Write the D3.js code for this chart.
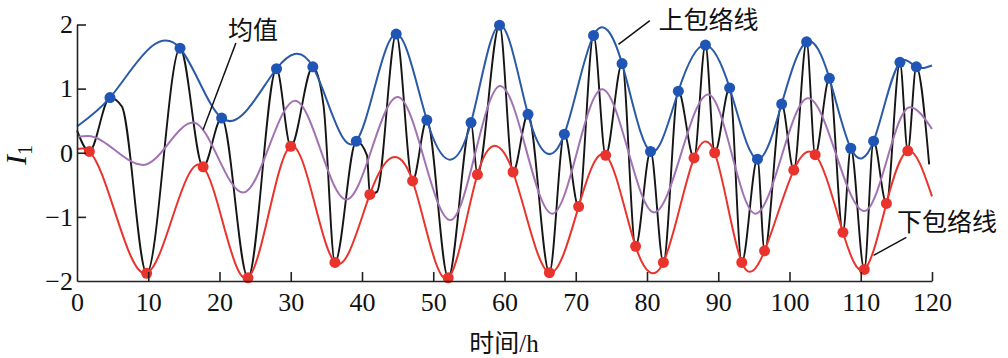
<!DOCTYPE html>
<html><head><meta charset="utf-8">
<script src="https://cdn.jsdelivr.net/npm/d3@7/dist/d3.min.js"></script>
<style>body{margin:0;background:#fff}svg{display:block}</style>
</head><body>
<svg id="chart" width="1008" height="358"></svg>
<script>
// ---- data ----
const xTicks = [0,10,20,30,40,50,60,70,80,90,100,110,120];
const yTicks = [-2,-1,0,1,2];

// local maxima of the signal (blue dots)
const maxX = [4.63,14.46,20.3,28.0,33.1,39.2,44.8,49.1,55.3,59.3,63.3,68.4,72.5,76.5,80.5,84.4,88.2,91.6,95.5,98.9,102.4,105.6,108.6,111.8,115.5,117.8];
const maxY = [0.86,1.63,0.54,1.31,1.34,0.18,1.85,0.51,0.47,1.99,0.60,0.29,1.83,1.39,0.02,0.96,1.68,1.01,-0.10,0.76,1.73,1.16,0.07,0.18,1.41,1.34];
// local minima of the signal (red dots)
const minX = [1.73,9.78,17.7,24.0,30.0,36.2,41.1,47.1,52.1,56.2,61.2,66.3,70.4,74.2,78.4,82.3,86.6,89.5,93.3,96.5,100.6,103.6,107.5,110.5,113.6,116.6];
const minY = [0.02,-1.88,-0.22,-1.95,0.10,-1.71,-0.65,-0.44,-1.95,-0.34,-0.30,-1.87,-0.84,-0.04,-1.46,-1.71,-0.08,0.0,-1.71,-1.53,-0.27,-0.03,-1.24,-1.82,-0.79,0.03];
// envelope end values at t = 0 and t = 120
const upperEndY = [0.41, 1.36];
const lowerEndY = [0.06, -0.68];
const endX = [0, 120];

// mean curve (purple)
const meanX = [0,1.5,9.3,16.3,23.3,30.6,37.8,45.0,52.4,59.4,66.7,73.7,81.0,88.6,95.2,102.6,110.5,116.9,120];
const meanY = [0.25,0.26,-0.19,0.47,-0.62,0.81,-0.73,0.87,-1.05,1.04,-0.95,0.99,-0.93,0.91,-0.95,0.85,-0.91,0.71,0.37];

// signal I1 (black)
const sigX = [0,1.73,4.63,6.3,9.78,14.46,17.7,20.3,24.0,28.0,30.0,33.1,34.6,36.2,39.2,40.7,41.1,42.1,44.8,47.1,49.1,52.1,55.3,56.2,59.3,61.2,63.3,66.3,68.4,70.4,72.5,74.2,76.5,78.4,80.5,82.3,84.4,86.6,88.2,89.5,91.6,93.3,95.5,96.5,98.9,100.6,102.4,103.6,105.6,107.5,108.6,110.5,111.8,113.6,115.5,116.6,117.8,119.6];
const sigY = [0.35,0.02,0.86,0.72,-1.88,1.63,-0.22,0.54,-1.95,1.31,0.10,1.34,0.74,-1.71,0.18,-0.04,-0.65,-0.61,1.85,-0.44,0.51,-1.95,0.47,-0.34,1.99,-0.30,0.60,-1.87,0.29,-0.84,1.83,-0.04,1.39,-1.46,0.02,-1.71,0.96,-0.08,1.68,0.0,1.01,-1.71,-0.10,-1.53,0.76,-0.27,1.73,-0.03,1.16,-1.24,0.07,-1.82,0.18,-0.79,1.41,0.03,1.34,-0.18];

// annotations: label, text anchor point, leader line [x1,y1,x2,y2] (data units)
const annLabels = ["均值","上包络线","下包络线"];
const annText = [[21.2,1.77],[81.6,1.93],[115.1,-1.22]];
const annLine = [[22.3,1.71,17.7,0.36],[80.4,2.06,76.0,1.69],[116.4,-1.32,111.8,-1.60]];

// ---- custom D3 curve: natural cubic spline in x (envelope interpolation) ----
function CurveSplineX(context){ this._context = context; }
CurveSplineX.prototype = {
  areaStart(){ this._line = 0; }, areaEnd(){ this._line = NaN; },
  lineStart(){ this._x = []; this._y = []; },
  point(x, y){ this._x.push(+x); this._y.push(+y); },
  lineEnd(){
    const X = this._x, Y = this._y, n = X.length, c = this._context;
    if (!n) return;
    c.moveTo(X[0], Y[0]);
    if (n < 3) { for (let i=1;i<n;i++) c.lineTo(X[i],Y[i]); return; }
    const h = [], M = new Array(n).fill(0);
    for (let i=0;i<n-1;i++) h.push(X[i+1]-X[i]);
    // tridiagonal solve for second derivatives (natural ends)
    const a=[],b=[],cc=[],d=[];
    for (let i=1;i<n-1;i++){
      a.push(h[i-1]); b.push(2*(h[i-1]+h[i])); cc.push(h[i]);
      d.push(6*((Y[i+1]-Y[i])/h[i] - (Y[i]-Y[i-1])/h[i-1]));
    }
    const m = b.length;
    for (let i=1;i<m;i++){ const w=a[i]/b[i-1]; b[i]-=w*cc[i-1]; d[i]-=w*d[i-1]; }
    const sol = new Array(m);
    sol[m-1] = d[m-1]/b[m-1];
    for (let i=m-2;i>=0;i--) sol[i] = (d[i]-cc[i]*sol[i+1])/b[i];
    for (let i=0;i<m;i++) M[i+1] = sol[i];
    for (let i=0;i<n-1;i++){
      const s = (Y[i+1]-Y[i])/h[i];
      const d0 = s - h[i]*(2*M[i]+M[i+1])/6;
      const d1 = s + h[i]*(M[i]+2*M[i+1])/6;
      c.bezierCurveTo(X[i]+h[i]/3, Y[i]+d0*h[i]/3, X[i+1]-h[i]/3, Y[i+1]-d1*h[i]/3, X[i+1], Y[i+1]);
    }
  }
};
const curveSplineX = ctx => new CurveSplineX(ctx);

// ---- drawing ----
const svg = d3.select("#chart");
const x = d3.scaleLinear().domain([0,120]).range([77,932]);
const y = d3.scaleLinear().domain([-2,2]).range([281,24.5]);

const cBlack="#151515", cBlue="#2a5aa6", cBlueDot="#1f55b4", cRed="#e8342c", cPurple="#a272b2";

const pts = (xs,ys)=>xs.map((v,i)=>[v,ys[i]]);
const upperPts = [[endX[0],upperEndY[0]], ...pts(maxX,maxY), [endX[1],upperEndY[1]]];
const lowerPts = [[endX[0],lowerEndY[0]], ...pts(minX,minY), [endX[1],lowerEndY[1]]];

const lineSpl = d3.line().x(d=>x(d[0])).y(d=>y(d[1])).curve(curveSplineX);
const lineMono = d3.line().x(d=>x(d[0])).y(d=>y(d[1])).curve(d3.curveMonotoneX);

// signal
svg.append("path").attr("d", lineMono(pts(sigX,sigY))).attr("fill","none")
  .attr("stroke",cBlack).attr("stroke-width",1.9).attr("stroke-linejoin","round");
// mean
svg.append("path").attr("d", lineMono(pts(meanX,meanY))).attr("fill","none")
  .attr("stroke",cPurple).attr("stroke-width",2);
// envelopes
svg.append("path").attr("d", lineSpl(upperPts)).attr("fill","none")
  .attr("stroke",cBlue).attr("stroke-width",2);
svg.append("path").attr("d", lineSpl(lowerPts)).attr("fill","none")
  .attr("stroke",cRed).attr("stroke-width",2);

// dots
svg.append("g").selectAll("circle").data(pts(maxX,maxY)).join("circle")
  .attr("cx",d=>x(d[0])).attr("cy",d=>y(d[1])).attr("r",5.5).attr("fill",cBlueDot);
svg.append("g").selectAll("circle").data(pts(minX,minY)).join("circle")
  .attr("cx",d=>x(d[0])).attr("cy",d=>y(d[1])).attr("r",5.5).attr("fill",cRed);

// axes
const fmt = d=> d<0 ? "\u2212"+Math.abs(d) : String(d);
const gx = svg.append("g").attr("transform",`translate(0,${y(-2)})`)
  .call(d3.axisBottom(x).tickValues(xTicks).tickSizeInner(-9).tickSizeOuter(0).tickPadding(12).tickFormat(fmt));
const gy = svg.append("g").attr("transform",`translate(${x(0)},0)`)
  .call(d3.axisLeft(y).tickValues(yTicks).tickSizeInner(-9).tickSizeOuter(0).tickPadding(4).tickFormat(fmt));
[gx,gy].forEach(g=>{
  g.selectAll("path.domain").attr("stroke","#222").attr("stroke-width",1.6);
  g.selectAll(".tick line").attr("stroke","#222").attr("stroke-width",1.6);
  g.selectAll("text").attr("font-family","'Liberation Serif','Times New Roman',serif")
   .attr("font-size",26).attr("fill","#111");
});
gy.selectAll(".tick").filter(d=>d===-2).select("line").remove();
gx.selectAll(".tick").filter(d=>d===0).select("line").remove();

// axis titles
const yl = svg.append("text").attr("transform",`translate(26,155) rotate(-90)`)
  .attr("text-anchor","middle").attr("font-family","'Liberation Serif',serif").attr("fill","#111");
yl.append("tspan").text("I").attr("font-style","italic").attr("font-size",30);
yl.append("tspan").text("1").attr("font-size",20).attr("dy",6);

svg.append("text").attr("x",504).attr("y",352).attr("text-anchor","middle")
  .attr("font-size",25).attr("fill","#111")
  .attr("font-family","'Noto Sans CJK SC',sans-serif")
  .selectAll("tspan").data([["时间","'Noto Sans CJK SC',sans-serif"],["/h","'Liberation Serif',serif"]]).join("tspan")
  .attr("font-family",d=>d[1]).text(d=>d[0]);

// annotations
annLabels.forEach((t,i)=>{
  const L = annLine[i];
  svg.append("line").attr("x1",x(L[0])).attr("y1",y(L[1])).attr("x2",x(L[2])).attr("y2",y(L[3]))
    .attr("stroke","#111").attr("stroke-width",1.5);
  svg.append("text").attr("x",x(annText[i][0])).attr("y",y(annText[i][1]))
    .attr("font-family","'Noto Sans CJK SC',sans-serif").attr("font-size",25).attr("fill","#111").text(t);
});
</script>
</body></html>
